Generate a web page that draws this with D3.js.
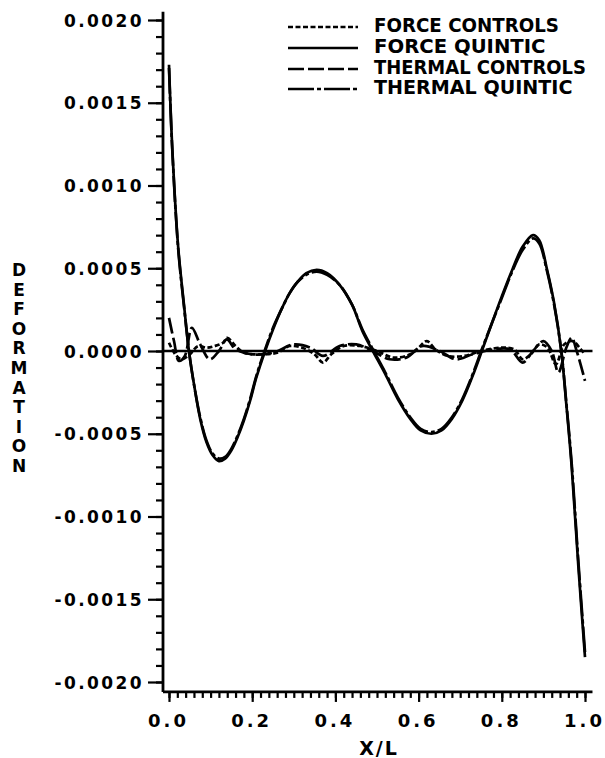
<!DOCTYPE html>
<html lang="en">
<meta charset="utf-8">
<style>
body { margin: 0; background: #fff; }
text { font-family: "DejaVu Sans", sans-serif; font-weight: bold; fill: #000; }
.axisline { stroke: #000; }
</style>
<body>
<script src="https://d3js.org/d3.v7.min.js"></script>
<div id="chart"></div>
<script>
// tick labels
var xTicks = [0, 0.2, 0.4, 0.6, 0.8, 1.0];
var yTicks = [-0.002, -0.0015, -0.001, -0.0005, 0, 0.0005, 0.001, 0.0015, 0.002];
var seriesNames = ["FORCE CONTROLS", "FORCE QUINTIC", "THERMAL CONTROLS", "THERMAL QUINTIC"];

// quintic curves
var xQuintic = [0, 0.008, 0.022, 0.036, 0.049, 0.062, 0.075, 0.09, 0.105, 0.12,
  0.135, 0.15, 0.165, 0.18, 0.195, 0.21, 0.231, 0.25, 0.27, 0.29,
  0.31, 0.33, 0.355, 0.38, 0.41, 0.44, 0.465, 0.49, 0.52, 0.55,
  0.58, 0.605, 0.631, 0.655, 0.68, 0.705, 0.73, 0.752, 0.775, 0.8,
  0.825, 0.85, 0.875, 0.89, 0.908, 0.925, 0.943, 0.955, 0.968, 0.984, 1.0];
var forceQuintic = [0.00173, 0.00122, 0.00063, 0.00028, -0.00002, -0.00023, -0.00041, -0.00055, -0.00063, -0.000665,
  -0.00065, -0.0006, -0.00052, -0.00042, -0.0003, -0.00016, 0.0, 0.00013, 0.00025, 0.00035,
  0.00042, 0.00047, 0.00049, 0.00047, 0.0004, 0.00028, 0.00012, 0.0, -0.00014, -0.00029,
  -0.00041, -0.00048, -0.0005, -0.00048, -0.00041, -0.0003, -0.00015, 0.0, 0.00016, 0.00033,
  0.00049, 0.00063, 0.0007, 0.00067, 0.0005, 0.0003, 0.0, -0.00032, -0.0007, -0.0013, -0.00185];
var thermalQuintic = [0.00171, 0.00121, 0.00062, 0.00027, -0.00002, -0.00023, -0.0004, -0.00054, -0.00062, -0.00065,
  -0.00064, -0.00059, -0.00051, -0.00041, -0.00029, -0.00015, 0.00001, 0.00014, 0.00025, 0.00035,
  0.00042, 0.00046, 0.00048, 0.00046, 0.0004, 0.00028, 0.00013, 0.00001, -0.00013, -0.00028,
  -0.0004, -0.00047, -0.00049, -0.00047, -0.0004, -0.00029, -0.00014, 0.00001, 0.00016, 0.00032,
  0.00048, 0.00061, 0.00068, 0.00065, 0.00049, 0.00029, 0.0, -0.00031, -0.00068, -0.00127, -0.00182];

// control curves, small wiggles about zero
var xForceCtl = [0, 0.015, 0.03, 0.05, 0.07, 0.09, 0.11, 0.13, 0.14, 0.16,
  0.18, 0.22, 0.26, 0.29, 0.32, 0.35, 0.37, 0.39, 0.42, 0.46,
  0.5, 0.54, 0.58, 0.6, 0.62, 0.64, 0.67, 0.71, 0.75, 0.8,
  0.83, 0.85, 0.87, 0.89, 0.91, 0.93, 0.95, 0.97, 0.99, 1.0];
var forceControls = [0.00005, -0.00002, -0.00005, -0.00002, 0.00003, 0.00002, 0.00003, 0.00005, 0.00008, 0.00003,
  -0.00001, -0.00002, -0.00001, 0.00003, 0.00002, -0.00002, -0.00007, -0.00002, 0.00003, 0.00003,
  0.0, -0.00004, -0.00002, 0.00002, 0.00006, 0.00001, -0.00003, -0.00003, 0.0, 0.00002,
  0.00001, -0.00005, -0.00002, 0.00004, 0.00002, -0.00008, 0.00004, 0.00006, 0.00001, -0.00002];
var xThermalCtl = [0, 0.012, 0.024, 0.038, 0.055, 0.075, 0.098, 0.12, 0.139, 0.16,
  0.2, 0.25, 0.3, 0.34, 0.37, 0.41, 0.45, 0.49, 0.53, 0.57,
  0.61, 0.65, 0.69, 0.73, 0.78, 0.82, 0.85, 0.875, 0.9, 0.92,
  0.936, 0.955, 0.968, 0.98, 1.0];
var thermalControls = [0.0002, 0.00006, -0.00006, -0.00003, 0.00014, 0.00004, -0.00005, 0.0, 0.00007, 0.00001,
  -0.00002, -0.00001, 0.00004, 0.00002, -0.00003, 0.00003, 0.00004, 0.0, -0.00005, -0.00004,
  0.00003, 0.0, -0.00005, -0.00002, 0.00001, 0.00001, -0.00007, 0.0, 0.00006, 0.0,
  -0.00013, 0.00002, 0.00008, 0.0, -0.00018];

var width = 605, height = 758;

var x = d3.scaleLinear().domain([0, 1]).range([169, 585]);
var y = d3.scaleLinear().domain([-0.002, 0.002]).range([682, 20]);

var svg = d3.select("#chart").append("svg")
    .attr("width", width)
    .attr("height", height);

var axX = 163, axY = y(-0.00206);

// minor ticks first, then majors on top
svg.append("g")
    .attr("transform", "translate(" + axX + ",0)")
    .call(d3.axisLeft(y).tickValues(d3.range(-20, 21).map(function(i) { return i * 0.0001; }))
      .tickSize(7).tickFormat(""))
    .call(function(g) { g.select(".domain").remove(); });

svg.append("g")
    .attr("transform", "translate(" + axX + ",0)")
    .call(d3.axisLeft(y).tickValues(yTicks).tickSize(15).tickPadding(4)
      .tickFormat(function(d) { return d3.format(".4f")(d).replace("−", "-"); }))
    .call(function(g) { g.select(".domain").remove(); })
    .selectAll("text")
      .style("font-size", "17px")
      .style("letter-spacing", "2.4px")
      .attr("dy", "0.36em");

svg.append("g")
    .attr("transform", "translate(0," + axY + ")")
    .call(d3.axisBottom(x).tickValues(d3.range(0, 51).map(function(i) { return i * 0.02; }))
      .tickSize(6).tickFormat(""))
    .call(function(g) { g.select(".domain").remove(); });

svg.append("g")
    .attr("transform", "translate(0," + axY + ")")
    .call(d3.axisBottom(x).tickValues(xTicks).tickSize(10).tickPadding(12)
      .tickFormat(d3.format(".1f")))
    .call(function(g) { g.select(".domain").remove(); })
    .selectAll("text")
      .style("font-size", "18px")
      .style("letter-spacing", "3px")
      .attr("dx", "-1px");

svg.selectAll(".tick line").style("stroke", "#000").style("stroke-width", 2.2);

// axis lines
svg.append("line").attr("class", "axisline")
    .attr("x1", axX).attr("x2", axX)
    .attr("y1", y(0.00205)).attr("y2", axY)
    .style("stroke-width", 2.8);
svg.append("line").attr("class", "axisline")
    .attr("x1", axX).attr("x2", x(1.018))
    .attr("y1", axY).attr("y2", axY)
    .style("stroke-width", 2.8);

// zero line
svg.append("line")
    .attr("x1", axX).attr("x2", x(1.018))
    .attr("y1", y(0)).attr("y2", y(0))
    .style("stroke", "#000").style("stroke-width", 2.4);

var line = d3.line()
    .x(function(d) { return x(d[0]); })
    .y(function(d) { return y(d[1]); })
    .curve(d3.curveCatmullRom.alpha(0.5));

var series = [
  {xs: xForceCtl, ys: forceControls, dash: "5,2.5"},
  {xs: xQuintic, ys: forceQuintic, dash: null},
  {xs: xThermalCtl, ys: thermalControls, dash: "16,4"},
  {xs: xQuintic, ys: thermalQuintic, dash: "26,3,4,3"}
];

series.forEach(function(s) {
  svg.append("path")
      .datum(d3.zip(s.xs, s.ys))
      .attr("d", line)
      .style("fill", "none")
      .style("stroke", "#000")
      .style("stroke-width", 2.7)
      .style("stroke-dasharray", s.dash);
});

// legend
var legend = svg.append("g");
var legendBase = [32, 53, 74, 94];
seriesNames.forEach(function(name, i) {
  legend.append("line")
      .attr("x1", 288).attr("x2", 358)
      .attr("y1", legendBase[i] - 5).attr("y2", legendBase[i] - 5)
      .style("stroke", "#000").style("stroke-width", 2.4)
      .style("stroke-dasharray", series[i].dash);
  legend.append("text")
      .attr("x", 374).attr("y", legendBase[i])
      .attr("textLength", name.length * 13.5 - 4)
      .attr("lengthAdjust", "spacingAndGlyphs")
      .style("font-size", "19px")
      .text(name);
});

// axis titles
svg.append("text")
    .attr("x", 379).attr("y", 755)
    .attr("text-anchor", "middle")
    .style("font-size", "19px")
    .style("letter-spacing", "2px")
    .text("X/L");

var ylab = svg.append("text")
    .attr("text-anchor", "middle")
    .style("font-size", "17px");
"DEFORMATION".split("").forEach(function(ch, i) {
  ylab.append("tspan")
      .attr("x", 19)
      .attr("y", 276 + i * 19.6)
      .text(ch);
});
</script>
</body>
</html>
